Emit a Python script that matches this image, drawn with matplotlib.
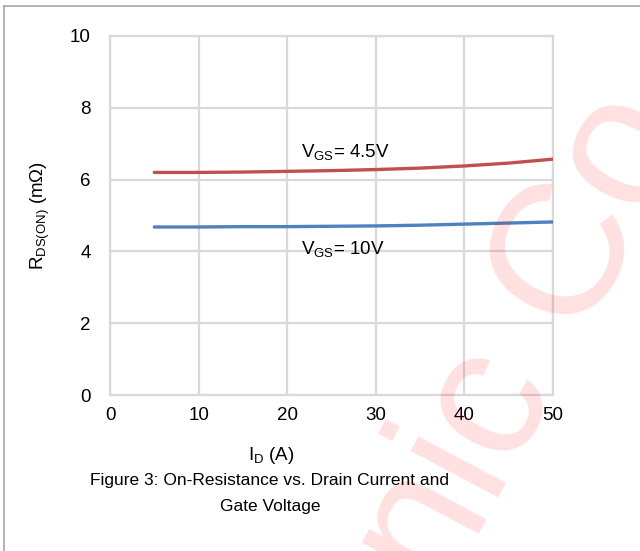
import matplotlib
matplotlib.use("Agg")
import matplotlib.pyplot as plt
from matplotlib.lines import Line2D

plt.rcParams['font.family'] = ['Liberation Sans', 'DejaVu Sans']
plt.rcParams['mathtext.fontset'] = 'custom'
plt.rcParams['mathtext.rm'] = 'Liberation Sans'
plt.rcParams['mathtext.it'] = 'Liberation Sans'
plt.rcParams['mathtext.default'] = 'regular'

# Data
current = [5, 10, 15, 20, 25, 30, 35, 40, 45, 50]
rds_vgs45 = [6.20, 6.20, 6.21, 6.23, 6.25, 6.28, 6.32, 6.38, 6.46, 6.57]
rds_vgs10 = [4.68, 4.68, 4.69, 4.69, 4.70, 4.71, 4.73, 4.76, 4.79, 4.82]
x_ticks = [0, 10, 20, 30, 40, 50]
y_ticks = [0, 2, 4, 6, 8, 10]

W, H = 640, 551
fig = plt.figure(figsize=(W / 100, H / 100), dpi=100)
ax = fig.add_axes([110 / W, 1 - 395 / H, (553 - 110) / W, (395 - 36) / H])
ax.set_facecolor('none')

ax.plot(current, rds_vgs45, color='#c0504d', lw=2.4, solid_capstyle='round', zorder=3)
ax.plot(current, rds_vgs10, color='#4f81bd', lw=2.4, solid_capstyle='round', zorder=3)

ax.set_xlim(0, 50)
ax.set_ylim(0, 10)
ax.set_xticks(x_ticks)
ax.set_yticks(y_ticks)
ax.tick_params(length=0, labelsize=13.5, colors='#000000')
ax.tick_params(axis='y', pad=14)
ax.tick_params(axis='x', pad=9)
ax.grid(True, color='#d9d9d9', lw=1.6)
for s in ax.spines.values():
    s.set_color('#d9d9d9')
    s.set_linewidth(1.6)

ax.text(21.6, 6.77, r'V$_{\mathregular{GS}}$= 4.5V', fontsize=13.5, va='center', ha='left')
ax.text(21.6, 4.07, r'V$_{\mathregular{GS}}$= 10V', fontsize=13.5, va='center', ha='left')

fig.text(40 / W, 1 - 215 / H, r'R$_{\mathregular{DS(ON)}}$ (m$\Omega$)', rotation=90,
         fontsize=13.5, ha='center', va='center')
fig.text(271 / W, 1 - 455 / H, r'I$_{\mathregular{D}}$ (A)', fontsize=13.5, ha='center', va='center')
fig.text(270 / W, 1 - 481 / H, 'Figure 3: On-Resistance vs. Drain Current and',
         fontsize=12.5, ha='center', va='center')
fig.text(270 / W, 1 - 506 / H, 'Gate Voltage', fontsize=12.5, ha='center', va='center')

# page frame
fig.add_artist(Line2D([4 / W, 1], [1 - 6 / H, 1 - 6 / H], color='#a6a6a6', lw=1.2))
fig.add_artist(Line2D([4 / W, 4 / W], [0, 1 - 6 / H], color='#a6a6a6', lw=1.2))

# watermark
fig.text(395 / W, 1 - 692 / H, 'onic Co', fontsize=135, color='#ff0000', alpha=0.12,
         rotation=62, rotation_mode='anchor', ha='left', va='baseline',
         zorder=10)

fig.savefig('out.png', dpi=100)
